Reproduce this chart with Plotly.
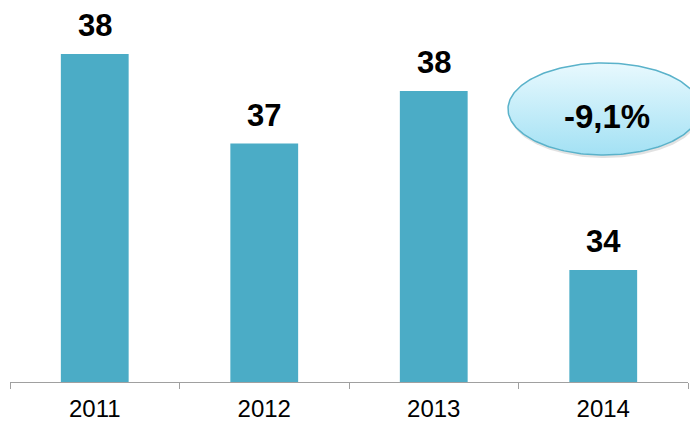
import numpy as np
import plotly.graph_objects as go

years = ["2011", "2012", "2013", "2014"]
values = [38.3, 36.6, 37.6, 34.2]
labels = ["38", "37", "38", "34"]
change_label = "-9,1%"

# page is rendered with an 8px body margin, so the figure is sized to fit inside
OFF = 8
PAGE_W, PAGE_H = 698, 424
W, H = PAGE_W - OFF, PAGE_H - OFF
axis_page_y = 382
plot_h = axis_page_y - OFF
base = 32.07
per_px = 0.019
y_top = base + plot_h * per_px

left_page, right_page = 10, 688
area_right_page = PAGE_W
x_dom_end = (right_page - left_page) / (area_right_page - left_page)

fig = go.Figure()
fig.add_trace(go.Bar(x=years, y=values, marker_color="#4BACC6",
                     marker_line_width=0, width=0.4,
                     hoverinfo="skip", xaxis="x", yaxis="y"))

for i, (v, lab) in enumerate(zip(values, labels)):
    fig.add_annotation(x=i, y=v, xref="x", yref="y", text=f"<b>{lab}</b>", showarrow=False,
                       yanchor="bottom", yshift=9,
                       font=dict(family="Liberation Sans, Arial", size=31, color="#000000"))

# ellipse decoration in page-pixel coordinates (y measured upward) on a full-size subplot
cx, cy, rx, ry = 604, PAGE_H - 109, 96, 46
t = np.linspace(0, 2 * np.pi, 240)
ex = cx + rx * np.cos(t)
ey = cy + ry * np.sin(t)
fig.add_trace(go.Scatter(x=ex + 1, y=ey - 3, mode="lines", fill="toself",
                         fillcolor="rgba(110,110,110,0.2)", line=dict(width=0),
                         xaxis="x2", yaxis="y2", hoverinfo="skip"))
fig.add_trace(go.Scatter(x=ex, y=ey, mode="lines", fill="toself",
                         fillgradient=dict(type="vertical",
                                           colorscale=[[0, "#A3E1F4"], [1, "#E8F9FE"]]),
                         line=dict(width=1.5, color="#5AB2CA"),
                         xaxis="x2", yaxis="y2", hoverinfo="skip"))
fig.add_annotation(x=607, y=PAGE_H - 116, xref="x2", yref="y2",
                   text=f"<b>{change_label}</b>", showarrow=False,
                   font=dict(family="Liberation Sans, Arial", size=33, color="#000000"))

fig.update_layout(
    width=W, height=H,
    margin=dict(l=left_page - OFF, r=0, t=0, b=H - plot_h, pad=0),
    paper_bgcolor="white", plot_bgcolor="rgba(0,0,0,0)",
    showlegend=False, bargap=0.6,
    xaxis=dict(type="category", domain=[0, x_dom_end], anchor="y",
               range=[-0.5, len(years) - 0.5],
               tickson="boundaries", ticks="outside", ticklen=6,
               tickcolor="#A0A0A0", ticklabelstandoff=5,
               showline=True, linecolor="#A0A0A0", linewidth=1,
               tickfont=dict(family="Liberation Sans, Arial", size=24, color="#000000"),
               showgrid=False, fixedrange=True),
    yaxis=dict(range=[base, y_top], domain=[0, 1], anchor="x",
               visible=False, showgrid=False, fixedrange=True),
    xaxis2=dict(range=[left_page, area_right_page], domain=[0, 1], anchor="y2",
                visible=False, fixedrange=True),
    yaxis2=dict(range=[PAGE_H - axis_page_y, PAGE_H - OFF], domain=[0, 1], anchor="x2",
                visible=False, fixedrange=True),
)

fig.write_html("out.html")
